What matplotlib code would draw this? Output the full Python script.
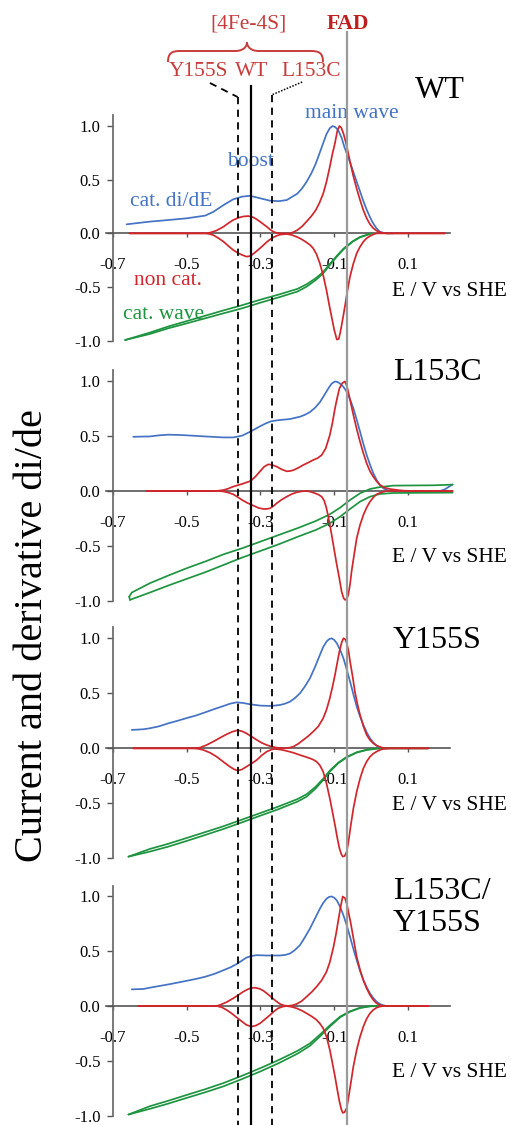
import numpy as np
import matplotlib
matplotlib.use('Agg')
import matplotlib.pyplot as plt
from matplotlib.lines import Line2D
from matplotlib.path import Path
from matplotlib.patches import PathPatch
import matplotlib.transforms as mtransforms

plt.rcParams['font.family'] = ['Liberation Serif', 'DejaVu Serif']
plt.rcParams['axes.unicode_minus'] = False

# ---------------- data ----------------
panel_names = ['WT', 'L153C', 'Y155S', 'L153C/\nY155S']
x_ticks = [-0.7, -0.5, -0.3, -0.1, 0.1]
x_ticklabels = ['-0.7', '-0.5', '-0.3', '-0.1', '0.1']
y_ticks = [-1.0, -0.5, 0.0, 0.5, 1.0]
y_ticklabels = ['-1.0', '-0.5', '0.0', '0.5', '1.0']

# reference potentials (V vs SHE)
E_Y155S = -0.362
E_WT = -0.327
E_L153C = -0.270
E_FAD = -0.066

# ---- WT ----
wt_blue_E = [-0.663, -0.600, -0.550, -0.500, -0.450, -0.428, -0.400, -0.374, -0.350, -0.328, -0.300, -0.274,
             -0.250, -0.229, -0.200, -0.187, -0.175, -0.162, -0.150, -0.140, -0.130, -0.121, -0.112, -0.104,
             -0.097, -0.089, -0.080, -0.072, -0.066, -0.058, -0.050, -0.040, -0.030, -0.021, -0.012, -0.003,
             0.006, 0.015, 0.024, 0.033, 0.042, 0.060]
wt_blue_v = [0.084, 0.109, 0.124, 0.140, 0.165, 0.200, 0.264, 0.317, 0.342, 0.350, 0.326, 0.304,
             0.300, 0.310, 0.370, 0.420, 0.480, 0.560, 0.650, 0.745, 0.840, 0.925, 0.980, 1.000,
             0.990, 0.960, 0.890, 0.800, 0.745, 0.670, 0.590, 0.490, 0.390, 0.300, 0.220, 0.150,
             0.090, 0.045, 0.015, 0.004, 0.000, 0.000]
wt_ox_E = [-0.655, -0.450, -0.437, -0.420, -0.400, -0.387, -0.374, -0.360, -0.347, -0.333, -0.320, -0.310,
           -0.297, -0.283, -0.274, -0.265, -0.256, -0.247, -0.220, -0.210, -0.200, -0.187, -0.175, -0.162,
           -0.150, -0.140, -0.130, -0.121, -0.112, -0.105, -0.098, -0.092, -0.086, -0.081, -0.075, -0.068,
           -0.062, -0.055, -0.048, -0.039, -0.030, -0.021, -0.012, -0.003, 0.006, 0.015, 0.024, 0.033,
           0.042, 0.200]
wt_ox_v = [0.000, 0.000, 0.006, 0.025, 0.062, 0.095, 0.124, 0.145, 0.157, 0.161, 0.150, 0.130,
           0.098, 0.062, 0.035, 0.015, 0.004, 0.000, 0.000, 0.012, 0.030, 0.065, 0.110, 0.160,
           0.217, 0.285, 0.370, 0.480, 0.620, 0.740, 0.840, 0.950, 1.000, 0.985, 0.930, 0.840,
           0.745, 0.635, 0.530, 0.415, 0.310, 0.215, 0.140, 0.085, 0.047, 0.024, 0.010, 0.003,
           0.000, 0.000]
wt_red_E = [-0.655, -0.450, -0.440, -0.428, -0.414, -0.400, -0.387, -0.374, -0.362, -0.351, -0.338, -0.328,
            -0.319, -0.305, -0.292, -0.281, -0.270, -0.258, -0.247, -0.229, -0.215, -0.200, -0.187, -0.175,
            -0.165, -0.157, -0.148, -0.139, -0.130, -0.121, -0.114, -0.107, -0.100, -0.093, -0.088, -0.084,
            -0.078, -0.071, -0.064, -0.057, -0.048, -0.039, -0.030, -0.021, -0.012, -0.003, 0.006, 0.015,
            0.200]
wt_red_v = [0.000, 0.000, -0.005, -0.016, -0.045, -0.078, -0.118, -0.155, -0.182, -0.200, -0.217, -0.212,
            -0.190, -0.150, -0.110, -0.075, -0.047, -0.025, -0.012, -0.006, -0.015, -0.035, -0.058, -0.085,
            -0.110, -0.140, -0.195, -0.280, -0.390, -0.530, -0.660, -0.780, -0.900, -0.990, -0.985, -0.930,
            -0.820, -0.680, -0.530, -0.400, -0.280, -0.186, -0.125, -0.078, -0.045, -0.025, -0.010, 0.000,
            0.000]
wt_cat_E = [-0.667, -0.600, -0.550, -0.500, -0.450, -0.400, -0.350, -0.300, -0.250, -0.200, -0.175, -0.150,
            -0.130, -0.112, -0.093, -0.075, -0.050, -0.030, -0.012, 0.001]
wt_cat_lo_v = [-0.994, -0.938, -0.885, -0.839, -0.792, -0.745, -0.699, -0.646, -0.596, -0.543, -0.497, -0.435,
               -0.373, -0.295, -0.217, -0.149, -0.078, -0.037, -0.016, 0.000]
wt_cat_hi_v = [-0.994, -0.925, -0.868, -0.818, -0.768, -0.718, -0.670, -0.618, -0.570, -0.518, -0.475, -0.418,
               -0.360, -0.285, -0.210, -0.143, -0.074, -0.034, -0.014, 0.000]

# ---- L153C ----
l1_blue_E = [-0.645, -0.600, -0.575, -0.550, -0.525, -0.500, -0.450, -0.400, -0.374, -0.350, -0.328, -0.314,
             -0.300, -0.285, -0.270, -0.250, -0.220, -0.193, -0.180, -0.166, -0.152, -0.139, -0.127, -0.116,
             -0.107, -0.098, -0.091, -0.084, -0.075, -0.066, -0.057, -0.048, -0.039, -0.030, -0.021, -0.012,
             -0.003, 0.006, 0.015, 0.024, 0.033, 0.042, 0.051, 0.060, 0.187, 0.200, 0.221]
l1_blue_v = [0.495, 0.498, 0.508, 0.514, 0.512, 0.508, 0.498, 0.489, 0.489, 0.505, 0.541, 0.567,
             0.593, 0.618, 0.638, 0.647, 0.657, 0.678, 0.695, 0.720, 0.760, 0.810, 0.875, 0.936,
             0.980, 1.000, 0.995, 0.980, 0.950, 0.906, 0.835, 0.754, 0.650, 0.541, 0.430, 0.328,
             0.240, 0.161, 0.100, 0.055, 0.025, 0.009, 0.002, 0.000, 0.000, 0.015, 0.060]
l1_ox_E = [-0.609, -0.420, -0.400, -0.387, -0.374, -0.350, -0.327, -0.314, -0.301, -0.290, -0.279, -0.268,
           -0.256, -0.243, -0.229, -0.220, -0.211, -0.197, -0.184, -0.170, -0.157, -0.145, -0.134, -0.123,
           -0.112, -0.105, -0.098, -0.092, -0.086, -0.078, -0.071, -0.066, -0.062, -0.055, -0.048, -0.039,
           -0.030, -0.021, -0.012, -0.003, 0.006, 0.015, 0.024, 0.037, 0.051, 0.078, 0.100, 0.221]
l1_ox_v = [0.000, 0.000, 0.009, 0.022, 0.040, 0.064, 0.091, 0.130, 0.180, 0.222, 0.243, 0.238,
           0.222, 0.198, 0.180, 0.182, 0.190, 0.212, 0.237, 0.260, 0.283, 0.300, 0.328, 0.390,
           0.510, 0.620, 0.754, 0.850, 0.936, 0.985, 1.000, 0.960, 0.906, 0.800, 0.693, 0.565,
           0.450, 0.345, 0.252, 0.180, 0.130, 0.088, 0.055, 0.030, 0.018, 0.006, 0.000, 0.000]
l1_red_E = [-0.609, -0.410, -0.400, -0.387, -0.374, -0.362, -0.350, -0.335, -0.319, -0.305, -0.292, -0.283,
            -0.274, -0.265, -0.256, -0.243, -0.229, -0.215, -0.202, -0.188, -0.175, -0.163, -0.152, -0.143,
            -0.134, -0.127, -0.121, -0.114, -0.107, -0.100, -0.093, -0.086, -0.080, -0.075, -0.071, -0.066,
            -0.062, -0.057, -0.053, -0.046, -0.039, -0.030, -0.021, -0.012, -0.003, 0.006, 0.015, 0.028,
            0.042, 0.221]
l1_red_v = [0.000, 0.000, -0.005, -0.015, -0.030, -0.055, -0.082, -0.110, -0.134, -0.155, -0.164, -0.164,
            -0.158, -0.138, -0.112, -0.080, -0.052, -0.028, -0.012, -0.003, 0.000, -0.008, -0.021, -0.033,
            -0.052, -0.090, -0.158, -0.270, -0.400, -0.540, -0.675, -0.800, -0.918, -0.975, -0.994, -0.985,
            -0.948, -0.850, -0.735, -0.580, -0.430, -0.310, -0.219, -0.150, -0.097, -0.058, -0.030, -0.012,
            0.000, 0.000]
l1_cat_lo_E = [-0.654, -0.600, -0.550, -0.500, -0.450, -0.400, -0.350, -0.300, -0.250, -0.200, -0.150, -0.112,
               -0.084, -0.057, -0.030, -0.003, 0.024, 0.060, 0.221]
l1_cat_lo_v = [-0.994, -0.927, -0.863, -0.802, -0.742, -0.675, -0.608, -0.547, -0.486, -0.419, -0.356, -0.295,
               -0.234, -0.164, -0.097, -0.052, -0.027, -0.018, -0.015]
l1_cat_hi_E = [-0.656, -0.649, -0.600, -0.550, -0.500, -0.450, -0.400, -0.350, -0.300, -0.250, -0.200, -0.150,
               -0.112, -0.084, -0.057, -0.030, -0.003, 0.024, 0.060, 0.169, 0.221]
l1_cat_hi_v = [-0.965, -0.927, -0.842, -0.772, -0.705, -0.644, -0.578, -0.523, -0.462, -0.401, -0.340, -0.274,
               -0.213, -0.152, -0.082, -0.021, 0.018, 0.036, 0.049, 0.052, 0.058]

# ---- Y155S ----
y1_blue_E = [-0.649, -0.618, -0.600, -0.575, -0.550, -0.525, -0.500, -0.475, -0.450, -0.425, -0.400, -0.383,
             -0.365, -0.347, -0.328, -0.300, -0.270, -0.247, -0.234, -0.220, -0.207, -0.193, -0.180, -0.166,
             -0.152, -0.139, -0.130, -0.121, -0.114, -0.107, -0.100, -0.093, -0.084, -0.075, -0.066, -0.057,
             -0.048, -0.039, -0.030, -0.021, -0.012, -0.003, 0.006, 0.015, 0.024, 0.033]
y1_blue_v = [0.167, 0.173, 0.182, 0.200, 0.227, 0.250, 0.275, 0.298, 0.327, 0.357, 0.385, 0.405,
             0.418, 0.412, 0.400, 0.388, 0.385, 0.394, 0.405, 0.424, 0.455, 0.500, 0.560, 0.636,
             0.740, 0.848, 0.920, 0.970, 0.992, 1.000, 0.985, 0.955, 0.895, 0.818, 0.715, 0.606,
             0.490, 0.379, 0.290, 0.212, 0.145, 0.091, 0.052, 0.024, 0.008, 0.000]
y1_ox_E = [-0.645, -0.482, -0.464, -0.446, -0.428, -0.410, -0.392, -0.377, -0.362, -0.350, -0.338, -0.324,
           -0.310, -0.297, -0.283, -0.270, -0.256, -0.234, -0.222, -0.211, -0.198, -0.184, -0.170, -0.157,
           -0.143, -0.130, -0.121, -0.112, -0.105, -0.098, -0.092, -0.086, -0.080, -0.075, -0.070, -0.066,
           -0.061, -0.057, -0.050, -0.044, -0.037, -0.030, -0.021, -0.012, -0.003, 0.006, 0.015, 0.024,
           0.033, 0.042, 0.155]
y1_ox_v = [0.000, 0.000, 0.006, 0.030, 0.061, 0.095, 0.127, 0.150, 0.164, 0.155, 0.136, 0.106,
           0.076, 0.050, 0.030, 0.015, 0.006, 0.000, 0.005, 0.015, 0.040, 0.076, 0.112, 0.152,
           0.200, 0.273, 0.350, 0.455, 0.555, 0.667, 0.775, 0.879, 0.960, 1.000, 0.990, 0.955,
           0.880, 0.788, 0.650, 0.515, 0.400, 0.303, 0.200, 0.121, 0.075, 0.045, 0.025, 0.012,
           0.004, 0.000, 0.000]
y1_red_E = [-0.645, -0.482, -0.468, -0.455, -0.437, -0.419, -0.400, -0.383, -0.372, -0.362, -0.350, -0.338,
            -0.324, -0.310, -0.297, -0.283, -0.270, -0.261, -0.245, -0.229, -0.211, -0.193, -0.180, -0.166,
            -0.157, -0.148, -0.139, -0.130, -0.121, -0.112, -0.105, -0.098, -0.092, -0.086, -0.081, -0.077,
            -0.072, -0.066, -0.061, -0.055, -0.048, -0.039, -0.030, -0.021, -0.012, -0.003, 0.006, 0.015,
            0.024, 0.033, 0.051, 0.155]
y1_red_v = [0.000, 0.000, -0.005, -0.015, -0.040, -0.076, -0.125, -0.167, -0.190, -0.203, -0.192, -0.167,
            -0.138, -0.106, -0.065, -0.030, -0.012, -0.006, -0.012, -0.024, -0.040, -0.061, -0.075, -0.091,
            -0.103, -0.121, -0.155, -0.212, -0.320, -0.455, -0.575, -0.697, -0.810, -0.909, -0.960, -0.985,
            -0.980, -0.939, -0.840, -0.697, -0.545, -0.394, -0.275, -0.182, -0.120, -0.076, -0.048, -0.030,
            -0.015, -0.006, 0.000, 0.000]
y1_cat_E = [-0.658, -0.600, -0.550, -0.500, -0.450, -0.400, -0.350, -0.300, -0.250, -0.200, -0.175, -0.150,
            -0.130, -0.112, -0.089, -0.066, -0.039, -0.012, 0.015, 0.042, 0.155]
y1_cat_lo_v = [-0.985, -0.939, -0.894, -0.842, -0.788, -0.733, -0.673, -0.612, -0.552, -0.485, -0.440, -0.364,
               -0.288, -0.212, -0.136, -0.082, -0.039, -0.015, -0.003, 0.000, 0.000]
y1_cat_hi_v = [-0.985, -0.915, -0.868, -0.815, -0.762, -0.708, -0.648, -0.588, -0.528, -0.462, -0.418, -0.348,
               -0.276, -0.203, -0.130, -0.078, -0.036, -0.013, -0.002, 0.000, 0.000]

# ---- L153C/Y155S ----
d1_blue_E = [-0.649, -0.618, -0.600, -0.575, -0.550, -0.525, -0.500, -0.475, -0.450, -0.425, -0.400, -0.380,
             -0.362, -0.350, -0.338, -0.324, -0.310, -0.283, -0.247, -0.232, -0.220, -0.207, -0.193, -0.180,
             -0.166, -0.152, -0.139, -0.130, -0.121, -0.114, -0.107, -0.100, -0.093, -0.084, -0.075, -0.066,
             -0.057, -0.048, -0.039, -0.030, -0.021, -0.012, -0.003, 0.006, 0.015, 0.024, 0.033, 0.042]
d1_blue_v = [0.152, 0.155, 0.167, 0.182, 0.197, 0.213, 0.230, 0.247, 0.267, 0.293, 0.327, 0.355,
             0.388, 0.415, 0.442, 0.457, 0.464, 0.461, 0.461, 0.467, 0.479, 0.510, 0.555, 0.625,
             0.706, 0.800, 0.888, 0.940, 0.979, 0.996, 1.000, 0.988, 0.964, 0.905, 0.827, 0.735,
             0.630, 0.520, 0.418, 0.320, 0.236, 0.170, 0.115, 0.072, 0.039, 0.018, 0.006, 0.000]
d1_ox_E = [-0.631, -0.419, -0.410, -0.392, -0.374, -0.360, -0.347, -0.333, -0.324, -0.315, -0.303, -0.292,
           -0.281, -0.270, -0.258, -0.247, -0.236, -0.225, -0.213, -0.202, -0.188, -0.175, -0.161, -0.148,
           -0.134, -0.121, -0.112, -0.102, -0.095, -0.089, -0.083, -0.077, -0.071, -0.066, -0.061, -0.055,
           -0.047, -0.039, -0.030, -0.021, -0.012, -0.003, 0.006, 0.015, 0.024, 0.033, 0.155]
d1_ox_v = [0.000, 0.000, 0.009, 0.035, 0.070, 0.100, 0.130, 0.155, 0.164, 0.167, 0.158, 0.139,
           0.110, 0.079, 0.045, 0.018, 0.005, 0.000, 0.006, 0.018, 0.045, 0.085, 0.128, 0.176,
           0.235, 0.312, 0.400, 0.539, 0.660, 0.782, 0.900, 1.000, 0.985, 0.933, 0.850, 0.752,
           0.600, 0.448, 0.330, 0.236, 0.160, 0.100, 0.055, 0.024, 0.008, 0.000, 0.000]
d1_red_E = [-0.631, -0.419, -0.405, -0.392, -0.378, -0.365, -0.351, -0.338, -0.324, -0.312, -0.301, -0.288,
            -0.274, -0.263, -0.252, -0.240, -0.229, -0.215, -0.202, -0.188, -0.175, -0.161, -0.148, -0.139,
            -0.130, -0.121, -0.112, -0.105, -0.098, -0.092, -0.086, -0.081, -0.077, -0.072, -0.066, -0.061,
            -0.055, -0.048, -0.039, -0.030, -0.021, -0.012, -0.003, 0.006, 0.015, 0.024, 0.033, 0.155]
d1_red_v = [0.000, 0.000, -0.012, -0.036, -0.068, -0.103, -0.140, -0.173, -0.188, -0.178, -0.158, -0.122,
            -0.082, -0.048, -0.021, -0.006, 0.000, -0.008, -0.021, -0.042, -0.067, -0.095, -0.127, -0.160,
            -0.203, -0.280, -0.400, -0.520, -0.642, -0.760, -0.870, -0.940, -0.976, -0.970, -0.930, -0.830,
            -0.703, -0.550, -0.400, -0.280, -0.188, -0.115, -0.067, -0.035, -0.015, -0.005, 0.000, 0.000]
d1_cat_E = [-0.658, -0.600, -0.550, -0.500, -0.450, -0.400, -0.350, -0.300, -0.250, -0.200, -0.166, -0.139,
            -0.112, -0.084, -0.057, -0.030, -0.003, 0.024, 0.155]
d1_cat_lo_v = [-0.991, -0.939, -0.891, -0.839, -0.788, -0.733, -0.667, -0.597, -0.521, -0.436, -0.364, -0.279,
               -0.188, -0.103, -0.052, -0.018, -0.003, 0.000, 0.000]
d1_cat_hi_v = [-0.991, -0.915, -0.865, -0.812, -0.760, -0.703, -0.637, -0.567, -0.492, -0.410, -0.342, -0.262,
               -0.177, -0.097, -0.048, -0.016, -0.002, 0.000, 0.000]

# ---------------- style ----------------
BLUE = '#4472C4'
RED = '#D0262C'
GREEN = '#1E9440'
TXT_RED = '#C83C3C'
FAD_RED = '#BE1E1E'

W, H = 511, 1125
fig = plt.figure(figsize=(W / 100, H / 100), dpi=100)

def fx(px):
    return px / W

def fy(py):
    return 1 - py / H

panel_px = [(115.3, 346.0), (370.5, 606.0), (627.3, 863.8), (885.5, 1121.0)]
ax_left_px, ax_right_px = 105.6, 450.4

panels = [
    dict(blue=(wt_blue_E, wt_blue_v), ox=(wt_ox_E, wt_ox_v), red=(wt_red_E, wt_red_v),
         cat_lo=(wt_cat_E, wt_cat_lo_v), cat_hi=(wt_cat_E, wt_cat_hi_v), closed=True),
    dict(blue=(l1_blue_E, l1_blue_v), ox=(l1_ox_E, l1_ox_v), red=(l1_red_E, l1_red_v),
         cat_lo=(l1_cat_lo_E, l1_cat_lo_v), cat_hi=(l1_cat_hi_E, l1_cat_hi_v), closed=False),
    dict(blue=(y1_blue_E, y1_blue_v), ox=(y1_ox_E, y1_ox_v), red=(y1_red_E, y1_red_v),
         cat_lo=(y1_cat_E, y1_cat_lo_v), cat_hi=(y1_cat_E, y1_cat_hi_v), closed=False),
    dict(blue=(d1_blue_E, d1_blue_v), ox=(d1_ox_E, d1_ox_v), red=(d1_red_E, d1_red_v),
         cat_lo=(d1_cat_E, d1_cat_lo_v), cat_hi=(d1_cat_E, d1_cat_hi_v), closed=False),
]
name_pos = [(0.119, 1.33), (0.059, 1.08), (0.059, 0.98), (0.059, 0.90)]
xlabel_y = [-0.54, -0.61, -0.52, -0.61]

line_kw = dict(lw=1.25, clip_on=False, solid_joinstyle='round', solid_capstyle='round')

axes = []
for i, (p, (top, bot)) in enumerate(zip(panels, panel_px)):
    ax = fig.add_axes([fx(ax_left_px), fy(bot), (ax_right_px - ax_left_px) / W, (bot - top) / H])
    axes.append(ax)
    ax.patch.set_visible(False)
    ax.set_xlim(-0.72, 0.215)
    ax.set_ylim(-1.05, 1.1)
    for s in ['top', 'right']:
        ax.spines[s].set_visible(False)
    ax.spines['left'].set_position(('data', -0.7))
    ax.spines['left'].set_bounds(-1.0, 1.1)
    ax.spines['left'].set_color('#6e6e6e')
    ax.spines['left'].set_linewidth(1.3)
    ax.spines['bottom'].set_position(('data', 0.0))
    ax.spines['bottom'].set_color('#555555')
    ax.spines['bottom'].set_linewidth(1.2)
    ax.set_xticks(x_ticks)
    ax.set_xticklabels(x_ticklabels)
    ax.set_yticks(y_ticks)
    ax.set_yticklabels(y_ticklabels)
    ax.tick_params(axis='y', direction='out', length=4, width=1, pad=5, labelsize=12, color='#555555')
    ax.tick_params(axis='x', direction='out', length=3, width=1, pad=14, labelsize=12, color='#555555')

    ax.plot(*p['blue'], color=BLUE, zorder=3, **line_kw)
    loE = list(p['cat_lo'][0]); lov = list(p['cat_lo'][1])
    hiE = list(p['cat_hi'][0]); hiv = list(p['cat_hi'][1])
    ax.plot(loE, lov, color=GREEN, zorder=3, **line_kw)
    ax.plot(hiE, hiv, color=GREEN, zorder=3, **line_kw)
    if not p['closed']:
        ax.plot([loE[0], hiE[0]], [lov[0], hiv[0]], color=GREEN, zorder=3, **line_kw)
    ax.plot(*p['ox'], color=RED, zorder=4, **line_kw)
    ax.plot(*p['red'], color=RED, zorder=4, **line_kw)

    ax.text(name_pos[i][0], name_pos[i][1], panel_names[i], fontsize=23, ha='left', va='center',
            linespacing=1.15, clip_on=False)
    ax.text(0.057, xlabel_y[i], 'E / V vs SHE', fontsize=15.5, ha='left', va='center', clip_on=False)

# WT annotations
ax0 = axes[0]
ax0.text(-0.052, 1.12, 'main wave', color=BLUE, fontsize=15.5, ha='center', va='center')
ax0.text(-0.326, 0.67, 'boost', color=BLUE, fontsize=15.5, ha='center', va='center')
ax0.text(-0.543, 0.30, 'cat. di/dE', color=BLUE, fontsize=15.5, ha='center', va='center')
ax0.text(-0.551, -0.44, 'non cat.', color=RED, fontsize=15.5, ha='center', va='center')
ax0.text(-0.564, -0.76, 'cat. wave', color=GREEN, fontsize=15.5, ha='center', va='center')

# vertical reference lines over whole figure
bt = mtransforms.blended_transform_factory(ax0.transData, fig.transFigure)
fig.add_artist(Line2D([E_FAD, E_FAD], [fy(32), 0], transform=bt, color='#9a9a9a', lw=1.6, zorder=5))
fig.add_artist(Line2D([E_WT, E_WT], [fy(86), 0], transform=bt, color='black', lw=1.6, zorder=6))
fig.add_artist(Line2D([-0.437, E_Y155S], [fy(83), fy(97)], transform=bt, color='black', lw=1.3,
                      ls=(0, (4, 3)), zorder=6))
fig.add_artist(Line2D([E_Y155S, E_Y155S], [fy(97), 0], transform=bt, color='black', lw=1.3,
                      ls=(0, (4, 3)), zorder=6))
fig.add_artist(Line2D([-0.187, E_L153C], [fy(82), fy(95)], transform=bt, color='black', lw=1.1,
                      ls=(0, (1, 1)), zorder=6))
fig.add_artist(Line2D([E_L153C, E_L153C], [fy(95), 0], transform=bt, color='black', lw=1.3,
                      ls=(0, (4, 3)), zorder=6))

# top labels
fig.text(fx(249), fy(24), '[4Fe-4S]', color=TXT_RED, fontsize=15.5, ha='center', va='center')
fig.text(fx(347.5), fy(24), 'FAD', color=FAD_RED, fontsize=15.5, fontweight='bold', ha='center', va='center')
fig.text(fx(199), fy(71), 'Y155S', color=TXT_RED, fontsize=15.5, ha='center', va='center')
fig.text(fx(252), fy(71), 'WT', color=TXT_RED, fontsize=15.5, ha='center', va='center')
fig.text(fx(311), fy(71), 'L153C', color=TXT_RED, fontsize=15.5, ha='center', va='center')

# curly brace
bx = [168, 168, 172, 180, 235, 243, 247, 247, 247, 251, 259, 311, 319, 323, 323]
by = [62, 53, 51, 51, 51, 51, 47, 42, 47, 51, 51, 51, 51, 53, 62]
codes = [Path.MOVETO, Path.CURVE4, Path.CURVE4, Path.CURVE4, Path.LINETO, Path.CURVE4, Path.CURVE4, Path.CURVE4,
         Path.CURVE4, Path.CURVE4, Path.CURVE4, Path.LINETO, Path.CURVE4, Path.CURVE4, Path.CURVE4]
verts = [(fx(a), fy(b)) for a, b in zip(bx, by)]
fig.add_artist(PathPatch(Path(verts, codes), transform=fig.transFigure, fill=False,
                         edgecolor=TXT_RED, lw=1.4))

# y label
fig.text(fx(33), fy(636), 'Current and derivative di/de', rotation=90, fontsize=29,
         ha='center', va='center')

fig.savefig('out.png', dpi=100)
